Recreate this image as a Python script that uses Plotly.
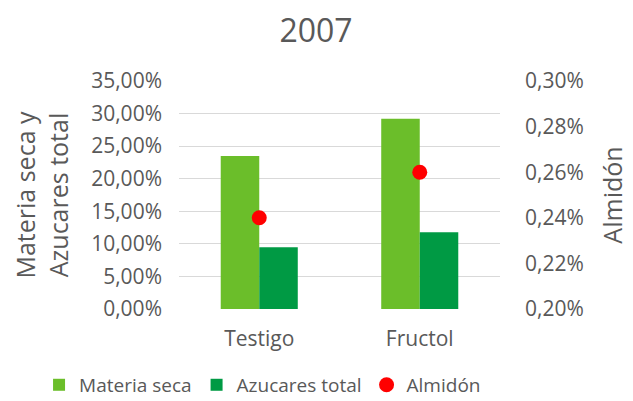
import plotly.graph_objects as go

categories = ["Testigo", "Fructol"]
materia_seca = [0.235, 0.292]
azucares_total = [0.0947, 0.118]
almidon = [0.0024, 0.0026]

font = "Open Sans"
gray = "#595959"

fig = go.Figure()
fig.add_trace(go.Bar(name="Materia seca", x=categories, y=materia_seca,
                     marker=dict(color="#6BBE2A", line=dict(width=0)), yaxis="y"))
fig.add_trace(go.Bar(name="Azucares total", x=categories, y=azucares_total,
                     marker=dict(color="#009A44", line=dict(width=0)), yaxis="y"))
fig.add_trace(go.Scatter(name="Almidón", x=categories, y=almidon, mode="markers",
                         marker=dict(color="#FF0000", size=15), yaxis="y2"))

fig.update_layout(
    width=625, height=393,
    margin=dict(l=171, r=133, t=73, b=92, autoexpand=False),
    paper_bgcolor="white", plot_bgcolor="white",
    separators=",.",
    font=dict(family=font, color=gray, size=21),
    title=dict(text="2007", x=0.4928, xanchor="center", y=0.943, yanchor="middle",
               font=dict(size=32, color=gray, family=font)),
    barmode="group", bargap=0.52, bargroupgap=0,
    xaxis=dict(showgrid=False, showline=False, automargin=False,
               tickfont=dict(size=21, color=gray), ticklabelstandoff=15),
    yaxis=dict(range=[0, 0.35], dtick=0.05, tickformat=".2%", showgrid=True,
               gridcolor="#D9D9D9", gridwidth=1.3, zeroline=False, automargin=False,
               tickfont=dict(size=21, color=gray), ticklabelstandoff=16,
               title=dict(text="Materia seca y<br>Azucares total", font=dict(size=25, color=gray),
                          standoff=31)),
    yaxis2=dict(range=[0.002, 0.003], dtick=0.0002, tickformat=".2%", overlaying="y",
                side="right", showgrid=False, zeroline=False, automargin=False,
                tickfont=dict(size=21, color=gray), ticklabelstandoff=24,
                title=dict(text="Almidón", font=dict(size=25, color=gray), standoff=21)),
    legend=dict(orientation="h", x=-0.436, xanchor="left",
                y=-0.333, yanchor="middle",
                font=dict(size=19, color=gray), traceorder="normal",
                itemwidth=30),
)

fig.write_html("out.html")
